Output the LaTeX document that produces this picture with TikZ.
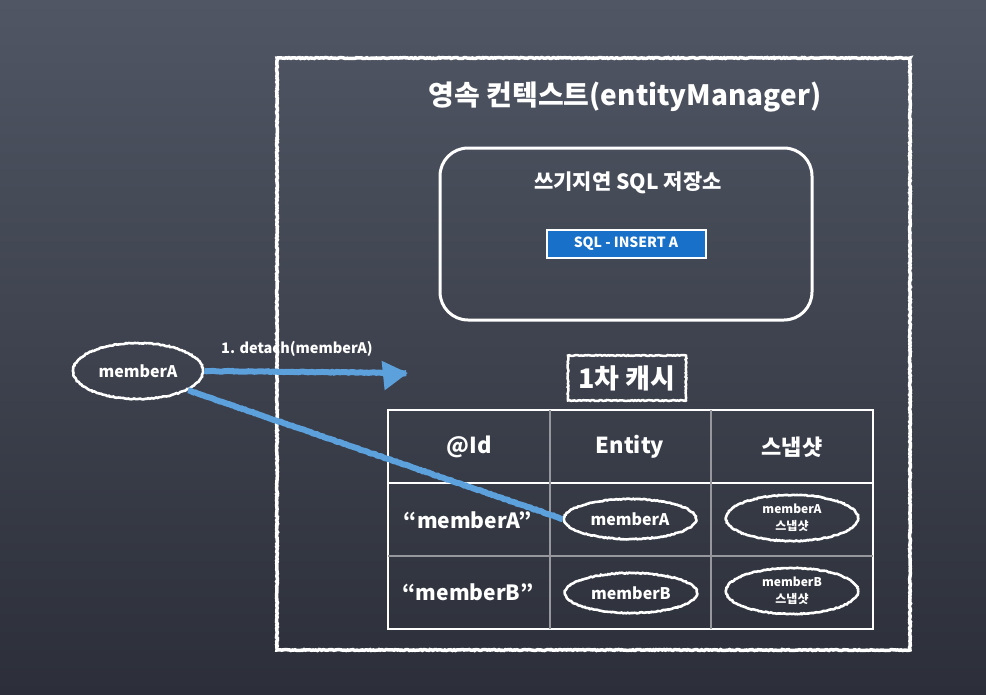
\documentclass[tikz,border=0pt]{standalone}
\usepackage{fontspec}
\setmainfont{Noto Sans CJK KR}
\usetikzlibrary{arrows.meta,shapes.geometric,decorations.pathmorphing}

\definecolor{board}{RGB}{80,86,100}
\definecolor{boarddark}{RGB}{44,47,57}
\definecolor{chalkblue}{RGB}{92,160,220}
\definecolor{sqlblue}{RGB}{24,112,200}
\definecolor{gridgray}{RGB}{150,152,158}

\tikzset{
    chalk/.style={draw=white, line width=3pt, decorate,
        decoration={random steps, segment length=1.5pt, amplitude=0.5pt}},
    label/.style={text=white, font=\bfseries\fontsize{#1}{#1}\selectfont},
    label/.default=22,
    oval/.style={ellipse, chalk, line width=2.6pt, minimum width=132pt,
        minimum height=40pt, inner sep=0pt, text=white,
        font=\bfseries\fontsize{16}{16}\selectfont},
    snapoval/.style={oval, minimum height=46pt, align=center,
        font=\bfseries\fontsize{12}{17}\selectfont},
    bluechalk/.style={draw=chalkblue, line width=6pt, decorate,
        decoration={random steps, segment length=2pt, amplitude=0.4pt}}
}

\begin{document}
\begin{tikzpicture}[x=1pt, y=-1pt]
    % board
    \fill[top color=board, bottom color=boarddark] (0,0) rectangle (986,694);
    \useasboundingbox (0,0) rectangle (986,694);

    % persistence context
    \draw[chalk, line width=3.5pt] (277,58) rectangle (910,650);
    \node[label=28] (pctitle) at (625,97) {영속 컨텍스트(entityManager)};

    % write-behind SQL store
    \draw[white, line width=3pt, rounded corners=28pt] (440,148) rectangle (812,320);
    \node[label=21] (storetitle) at (628,183) {쓰기지연 SQL 저장소};
    \node[label=14, fill=sqlblue, draw=white, line width=2pt,
        minimum width=159pt, minimum height=28pt] (insertA) at (626,244) {SQL - INSERT A};

    % first level cache
    \node[label=27, chalk, line width=2.5pt, minimum width=118pt,
        minimum height=45pt, inner sep=0pt] (cache) at (627,378) {1차 캐시};

    \draw[white, line width=1.8pt] (388,410) rectangle (873,629);
    \draw[white, line width=1.4pt] (388,483) -- (873,483);
    \draw[gridgray, line width=1.2pt] (388,556) -- (873,556);
    \foreach \x in {550,711}
        \draw[gridgray, line width=1.2pt] (\x,410) -- (\x,629);

    \node[label] (hid) at (469,447) {@Id};
    \node[label] (hentity) at (630,447) {Entity};
    \node[label] (hsnap) at (792,447) {스냅샷};

    \node[label=21] (idA) at (468,520) {“memberA”};
    \node[label=21] (idB) at (468,592) {“memberB”};
    \node[oval] (entA) at (630,519) {memberA};
    \node[oval] (entB) at (631,593) {memberB};
    \node[snapoval] (snapA) at (792,518) {memberA\\스냅샷};
    \node[snapoval] (snapB) at (792,591) {memberB\\스냅샷};

    % detach
    \node[oval, minimum width=130pt, minimum height=56pt] (memberA) at (138,371) {memberA};
    \coordinate (detachEnd) at (408,373);
    \draw[bluechalk, -{Triangle[length=25pt, width=28pt]}] (memberA.east) -- (detachEnd);
    \node[label=14.5] (detachLabel) at (297,349) {1. detach(memberA)};
    \draw[bluechalk] (memberA.-21) -- (entA.west);
\end{tikzpicture}
\end{document}
